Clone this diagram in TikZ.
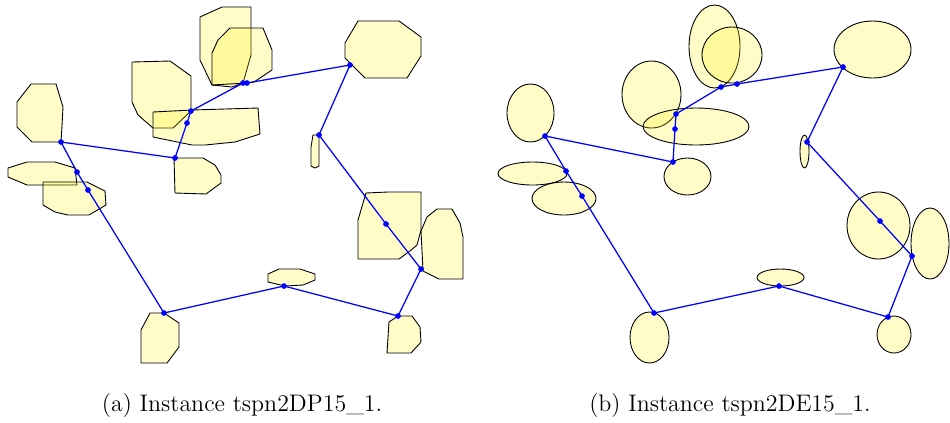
\documentclass[tikz,border=0pt]{standalone}
\usepackage{fontspec}
\begin{document}
\begin{tikzpicture}[x=0.56pt,y=-0.56pt,
  region/.style={draw=black, line width=0.5pt, fill=yellow, fill opacity=0.22, line join=round},
  tour/.style={draw=blue, line width=0.7pt, line join=round},
  caption/.style={inner sep=0pt, font=\fontsize{13.4}{16}\selectfont}]
\useasboundingbox (0,0) rectangle (950,422);

% ---------------- (a) polygonal neighbourhoods ----------------
\draw[region] (31,84) -- (56,84) -- (63,107) -- (62,126) -- (61,142) -- (32,142) -- (17,127) -- (17,102) -- cycle;
\draw[region] (132,62) -- (170,61) -- (191,76) -- (191,111) -- (173,128) -- (153,128) -- (138,115) -- (132,102) -- cycle;
\draw[region] (153,112) -- (192,110) -- (258,108) -- (260,134) -- (235,142) -- (205,145) -- (192,145) -- (153,137) -- cycle;
\draw[region] (174,158) -- (203,158) -- (215,165) -- (221,175) -- (221,183) -- (206,194) -- (175,193) -- cycle;
\draw[region] (8,168) -- (27,162) -- (55,162) -- (75,168) -- (77,185) -- (27,185) -- (8,177) -- cycle;
\draw[region] (43,182) -- (87,182) -- (105,191) -- (106,205) -- (89,215) -- (68,215) -- (55,212) -- (43,205) -- cycle;
\draw[region] (200,17) -- (222,7) -- (251,7) -- (251,55) -- (243,83) -- (232,87) -- (212,85) -- (200,60) -- cycle;
\draw[region] (230,28) -- (263,28) -- (272,50) -- (272,70) -- (254,82) -- (247,83) -- (212,85) -- (212,53) -- (218,40) -- cycle;
\draw[region] (358,21) -- (399,21) -- (421,37) -- (421,56) -- (407,78) -- (365,78) -- (345,58) -- (345,43) -- cycle;
\draw[region] (313,135) -- (319,135) -- (319,166) -- (315,168) -- (311,166) -- (311,147) -- cycle;
\draw[region] (366,193) -- (388,192) -- (421,192) -- (421,230) -- (417,245) -- (410,251) -- (399,259) -- (358,259) -- (358,220) -- cycle;
\draw[region] (437,209) -- (452,209) -- (460,223) -- (463,237) -- (463,279) -- (439,279) -- (423,271) -- (421,231) -- (427,217) -- cycle;
\draw[region] (268,274) -- (279,269) -- (300,269) -- (315,274) -- (315,280) -- (303,285) -- (285,286) -- (268,282) -- cycle;
\draw[region] (389,322) -- (398,316) -- (412,316) -- (420,327) -- (421,342) -- (411,353) -- (387,353) -- cycle;
\draw[region] (150,313) -- (164,313) -- (179,323) -- (179,347) -- (167,363) -- (141,363) -- (141,330) -- cycle;

% tour through the polygons
\coordinate (a1) at (61,142);
\coordinate (a2) at (77,172);
\coordinate (a3) at (88,190);
\coordinate (a4) at (164,313);
\coordinate (a5) at (284,286);
\coordinate (a6) at (398,316);
\coordinate (a7) at (421,269);
\coordinate (a8) at (386,224);
\coordinate (a9) at (319,135);
\coordinate (a10) at (350,65);
\coordinate (a11) at (247,83);
\coordinate (a12) at (243,83);
\coordinate (a13) at (191,111);
\coordinate (a14) at (187,123);
\coordinate (a15) at (175,158);
\draw[tour] (a1) -- (a2) -- (a3) -- (a4) -- (a5) -- (a6) -- (a7) -- (a8) -- (a9) -- (a10)
  -- (a11) -- (a12) -- (a13) -- (a14) -- (a15) -- cycle;
\foreach \p in {a1,a2,a3,a4,a5,a6,a7,a8,a9,a10,a11,a12,a13,a14,a15}
  \fill[blue] (\p) circle[radius=1.6pt];

% ---------------- (b) elliptical neighbourhoods ----------------
\draw[region] (530.5,113) ellipse[x radius=23.5, y radius=29];
\draw[region] (532.5,173.5) ellipse[x radius=34.5, y radius=11.5];
\draw[region] (564,198.5) ellipse[x radius=32, y radius=16.5];
\draw[region] (649.5,337.5) ellipse[x radius=19.5, y radius=25.5];
\draw[region] (780.5,277.5) ellipse[x radius=23.5, y radius=8.5];
\draw[region] (894,334.5) ellipse[x radius=17, y radius=18.5];
\draw[region] (878.5,225.5) ellipse[x radius=31.5, y radius=33.5];
\draw[region] (930,243.5) ellipse[x radius=19, y radius=35.5];
\draw[region] (804.5,151.5) ellipse[x radius=4.5, y radius=16.5];
\draw[region] (872.5,49.5) ellipse[x radius=38.5, y radius=28.5];
\draw[region] (714.5,46.5) ellipse[x radius=25.5, y radius=41.5];
\draw[region] (732,55) ellipse[x radius=30, y radius=28];
\draw[region] (651.5,94.5) ellipse[x radius=29.5, y radius=33.5];
\draw[region] (696,126.5) ellipse[x radius=53, y radius=18.5];
\draw[region] (687.5,176.5) ellipse[x radius=23.5, y radius=18.5];

% tour through the ellipses
\coordinate (b1) at (545,136);
\coordinate (b2) at (566,171);
\coordinate (b3) at (582,196);
\coordinate (b4) at (654,313);
\coordinate (b5) at (779,286);
\coordinate (b6) at (888,317);
\coordinate (b7) at (912,256);
\coordinate (b8) at (880,221);
\coordinate (b9) at (807,142);
\coordinate (b10) at (843,67);
\coordinate (b11) at (737,84);
\coordinate (b12) at (721,87);
\coordinate (b13) at (676,114);
\coordinate (b14) at (675,129);
\coordinate (b15) at (673,162);
\draw[tour] (b1) -- (b2) -- (b3) -- (b4) -- (b5) -- (b6) -- (b7) -- (b8) -- (b9) -- (b10)
  -- (b11) -- (b12) -- (b13) -- (b14) -- (b15) -- cycle;
\foreach \p in {b1,b2,b3,b4,b5,b6,b7,b8,b9,b10,b11,b12,b13,b14,b15}
  \fill[blue] (\p) circle[radius=1.6pt];

% captions
\node[caption] (capa) at (242,406) {(a) Instance tspn2DP15\_1.};
\node[caption] (capb) at (730,406) {(b) Instance tspn2DE15\_1.};
\end{tikzpicture}
\end{document}
